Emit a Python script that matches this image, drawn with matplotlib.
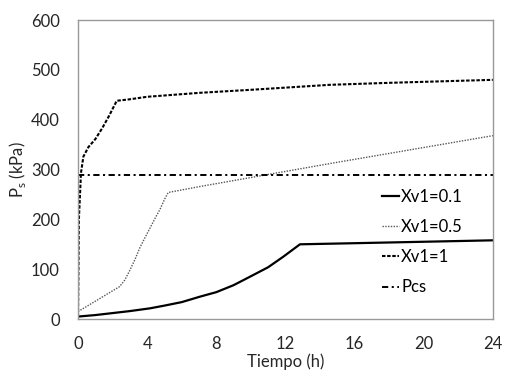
import numpy as np
import matplotlib
matplotlib.use('Agg')
import matplotlib.pyplot as plt

plt.rcParams['font.family'] = ['Lato', 'DejaVu Sans']
plt.rcParams['lines.scale_dashes'] = False

# Xv1 = 0.1
t_01 = [0, 1, 2, 3, 4.16, 5, 6, 7.06, 8, 9, 9.95, 11, 11.87, 12.84, 15.7, 24]
p_01 = [5, 8, 12, 16, 21.5, 27, 34, 45, 54, 68, 85, 104, 125, 150, 152, 158]

# Xv1 = 0.5
t_05 = [0, 2.4, 2.7, 3.0, 3.3, 3.6, 3.9, 4.2, 4.5, 4.74, 5.0, 5.22, 7.06, 14.57, 24]
p_05 = [15, 65, 78, 98, 120, 145, 165, 185, 205, 220, 240, 254, 266, 312, 368]

# Xv1 = 1
t_1 = [0, 0.05, 0.17, 0.31, 0.6, 1.0, 1.4, 1.8, 2.24, 3, 4, 7.06, 10, 14.57, 18, 24]
p_1 = [5, 200, 293, 326, 345, 361, 383, 408, 438, 441, 446, 454, 460, 470, 474, 480]

# Pcs
t_pcs = [0, 24]
p_pcs = [290, 290]

fig = plt.figure(figsize=(5.05, 3.71), dpi=100)
ax = fig.add_axes([0.1545, 0.140, 0.8215, 0.806])

ax.plot(t_01, p_01, color='black', lw=1.6, label='Xv1=0.1')
ax.plot(t_05, p_05, color='#555555', lw=1.0, linestyle=(0, (1, 1)), label='Xv1=0.5')
ax.plot(t_1, p_1, color='black', lw=1.5, linestyle=(0, (2.5, 1.2)), label='Xv1=1')
ax.plot(t_pcs, p_pcs, color='black', lw=1.4, linestyle=(0, (4.5, 2.5, 1.5, 2.5)), label='Pcs')

ax.set_xlim(0, 24)
ax.set_ylim(0, 600)
ax.set_xticks(range(0, 25, 4))
ax.set_yticks(range(0, 601, 100))
ax.tick_params(length=0, labelsize=12, colors='#262626')
ax.tick_params(axis='x', pad=12)
ax.tick_params(axis='y', pad=13)
for s in ax.spines.values():
    s.set_color('#999999')
    s.set_linewidth(1.0)

ax.set_xlabel('Tiempo (h)', fontsize=12, labelpad=1.5, color='#262626')
ax.set_ylabel('P$_\\mathregular{s}$ (kPa)', fontsize=12, labelpad=2, color='#262626')

leg = ax.legend(loc='upper left', bbox_to_anchor=(0.733, 0.435), frameon=False,
                fontsize=12, handlelength=1.0, handletextpad=0.15,
                labelspacing=0.85, borderpad=0, borderaxespad=0)

fig.savefig('out.png', dpi=100)
